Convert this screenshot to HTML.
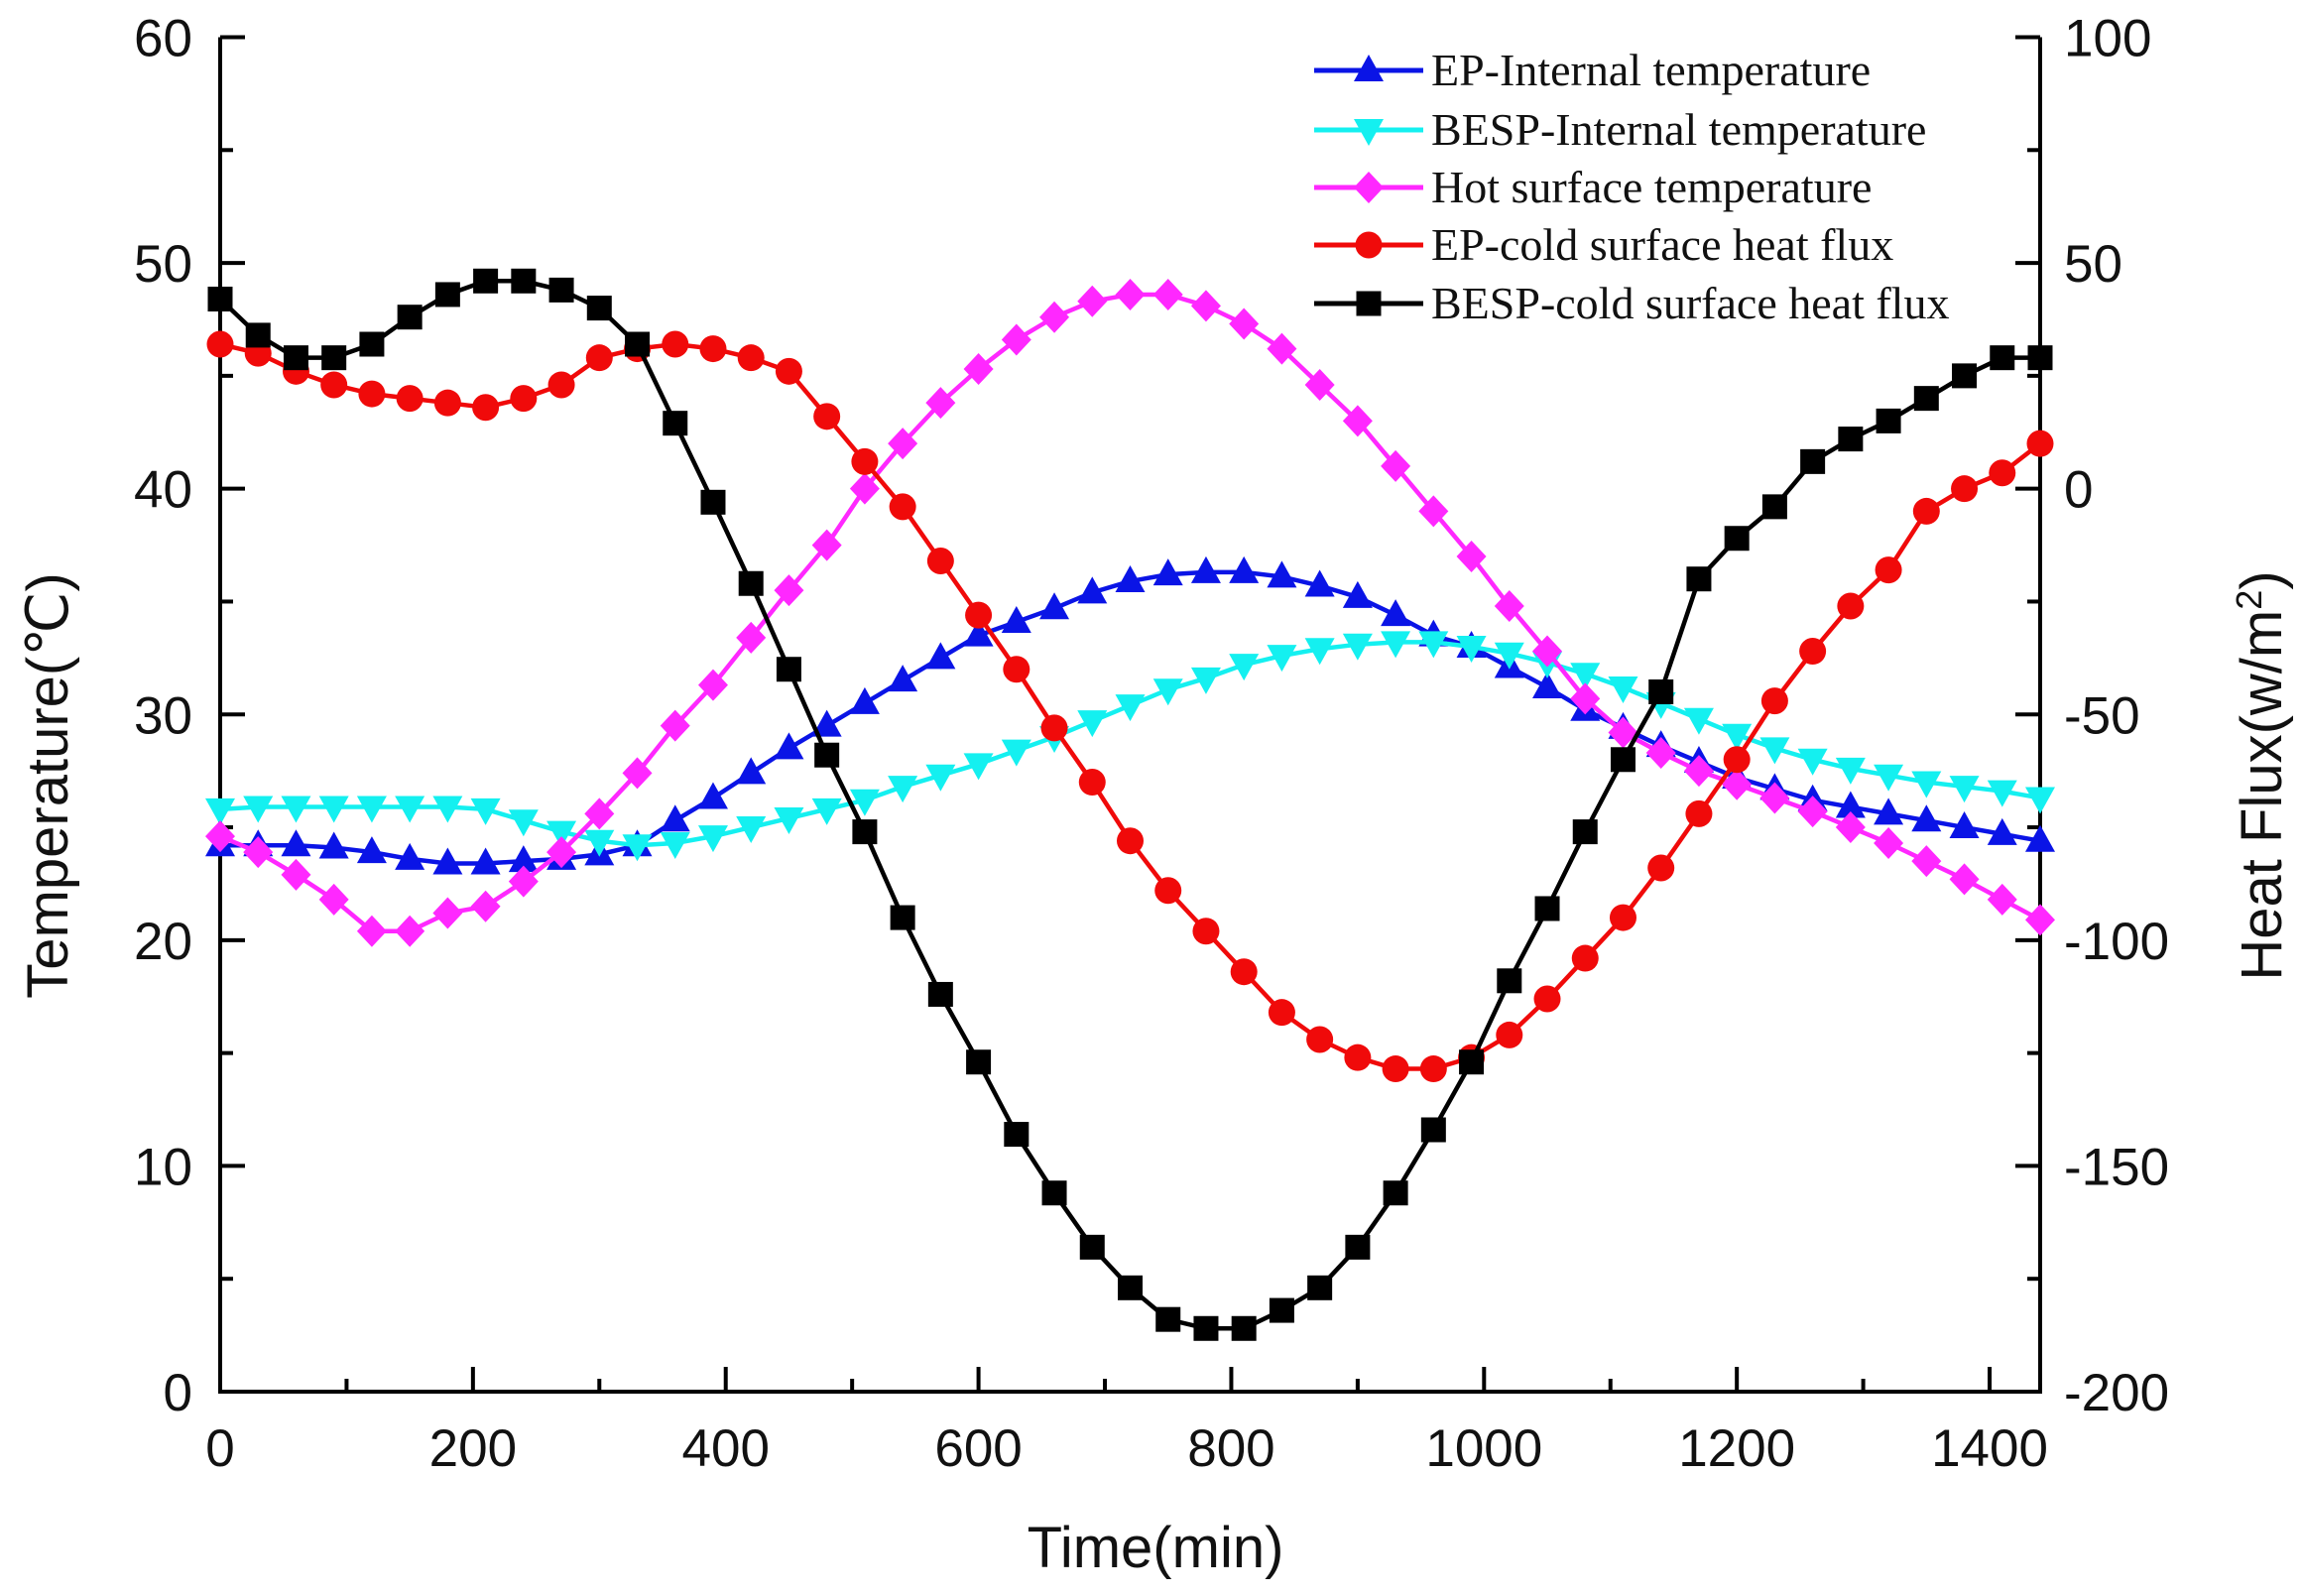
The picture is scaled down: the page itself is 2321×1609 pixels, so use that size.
<!DOCTYPE html>
<html><head><meta charset="utf-8"><style>
body{margin:0;background:#fff}
svg text{font-family:"Liberation Sans",sans-serif;fill:#111}
.leg{font-family:"Liberation Serif",serif}
</style></head><body>
<svg id="chart" width="2321" height="1604" xmlns="http://www.w3.org/2000/svg">
<g id="axes"></g>
<g id="series"></g>
<g id="legend"></g>
</svg>
<script>
const times=[0,30,60,90,120,150,180,210,240,270,300,330,360,390,420,450,480,510,540,570,600,630,660,690,720,750,780,810,840,870,900,930,960,990,1020,1050,1080,1110,1140,1170,1200,1230,1260,1290,1320,1350,1380,1410,1440];
const epInternal=[24.2,24.2,24.2,24.1,23.9,23.6,23.4,23.4,23.5,23.6,23.8,24.2,25.3,26.3,27.4,28.5,29.5,30.5,31.5,32.5,33.5,34.1,34.7,35.4,35.9,36.2,36.3,36.3,36.1,35.7,35.2,34.4,33.5,33.0,32.1,31.2,30.2,29.4,28.6,27.9,27.2,26.7,26.2,25.9,25.6,25.3,25.0,24.7,24.4];
const bespInternal=[25.8,25.9,25.9,25.9,25.9,25.9,25.9,25.8,25.3,24.8,24.4,24.2,24.3,24.6,25.0,25.4,25.8,26.2,26.8,27.3,27.8,28.4,29.0,29.7,30.4,31.1,31.6,32.2,32.6,32.9,33.1,33.2,33.2,33.0,32.7,32.3,31.8,31.2,30.5,29.8,29.1,28.5,28.0,27.6,27.3,27.0,26.8,26.6,26.3];
const hotSurface=[24.6,23.9,22.9,21.8,20.4,20.4,21.2,21.5,22.6,23.9,25.6,27.4,29.5,31.3,33.4,35.5,37.5,40.0,42.0,43.8,45.3,46.6,47.6,48.3,48.6,48.6,48.1,47.3,46.2,44.6,43.0,41.0,39.0,37.0,34.8,32.8,30.7,29.2,28.3,27.5,26.9,26.3,25.7,25.0,24.3,23.5,22.7,21.8,20.9];
const epFlux=[32,30,26,23,21,20,19,18,20,23,29,31,32,31,29,26,16,6,-4,-16,-28,-40,-53,-65,-78,-89,-98,-107,-116,-122,-126,-128.5,-128.5,-126,-121,-113,-104,-95,-84,-72,-60,-47,-36,-26,-18,-5,0,3.5,10];
const bespFlux=[42,34,29,29,32,38,43,46,46,44,40,32,14.5,-3,-21,-40,-59,-76,-95,-112,-127,-143,-156,-168,-177,-184,-186,-186,-182,-177,-168,-156,-142,-127,-109,-93,-76,-60,-45,-20,-11,-4,6,11,15,20,25,29,29];
const xTicks=[0,200,400,600,800,1000,1200,1400];
const yTicks=[0,10,20,30,40,50,60];
const y2Ticks=[-200,-150,-100,-50,0,50,100];
const legendLabels=["EP-Internal temperature","BESP-Internal temperature","Hot surface temperature","EP-cold surface heat flux","BESP-cold surface heat flux"];

const L=222,R=2057,T=37.5,B=1403;
const X=v=>L+(v/1440)*(R-L);
const Y=v=>B-(v/60)*(B-T);
const Y2=v=>B-((v+200)/300)*(B-T);
const NS="http://www.w3.org/2000/svg";
function mk(p,tag,a){const e=document.createElementNS(NS,tag);for(const k in a)e.setAttribute(k,a[k]);p.appendChild(e);return e;}
const ax=document.getElementById('axes');
let e;
e=mk(ax,'path',{d:`M${L},${T} L${L},${B} L${R},${B} L${R},${T}`,fill:'none',stroke:'#000','stroke-width':4});


for(let v=0;v<=1440;v+=100){const maj=v%200===0;const t=mk(ax,'line',{x1:X(v),x2:X(v),y1:B,y2:B-(maj?25:13),stroke:'#000','stroke-width':4});

}
xTicks.forEach(v=>{const t=mk(ax,'text',{x:X(v),y:B+75,'font-size':53,'text-anchor':'middle'});t.textContent=v;

});
for(let v=0;v<=60;v+=5){const maj=v%10===0;const t=mk(ax,'line',{x1:L,x2:L+(maj?25:13),y1:Y(v),y2:Y(v),stroke:'#000','stroke-width':4});

}
yTicks.forEach(v=>{const t=mk(ax,'text',{x:L-28,y:Y(v)+19,'font-size':53,'text-anchor':'end'});t.textContent=v;

});
for(let v=-200;v<=100;v+=25){const maj=v%50===0;const t=mk(ax,'line',{x1:R,x2:R-(maj?25:13),y1:Y2(v),y2:Y2(v),stroke:'#000','stroke-width':4});

}
y2Ticks.forEach(v=>{const t=mk(ax,'text',{x:R+24,y:Y2(v)+19,'font-size':53,'text-anchor':'start'});t.textContent=v;

});
e=mk(ax,'text',{x:1165,y:1580,'font-size':58,'text-anchor':'middle'});e.textContent='Time(min)';


e=mk(ax,'text',{x:0,y:0,'font-size':58,'text-anchor':'middle',transform:`translate(68,792) rotate(-90)`});e.textContent='Temperature(\u2103)';


e=mk(ax,'text',{x:0,y:0,'font-size':58,'text-anchor':'middle',transform:`translate(2300,782) rotate(-90)`});
e.innerHTML='Heat Flux(w/m<tspan dy="-20" font-size="36">2</tspan><tspan dy="20">)</tspan>';



function marker(g,shape,x,y,c){
  const s=12.5;let m;
  if(shape==='sq')m=mk(g,'rect',{x:x-s,y:y-s,width:2*s,height:2*s,fill:c});
  else if(shape==='ci')m=mk(g,'circle',{cx:x,cy:y,r:s+1,fill:c});
  else if(shape==='up')m=mk(g,'polygon',{points:`${x},${y-16} ${x+15},${y+11} ${x-15},${y+11}`,fill:c});
  else if(shape==='dn')m=mk(g,'polygon',{points:`${x},${y+16} ${x+15},${y-11} ${x-15},${y-11}`,fill:c});
  else m=mk(g,'polygon',{points:`${x},${y-16} ${x+15},${y} ${x},${y+16} ${x-15},${y}`,fill:c});
  return m;
}
const S=document.getElementById('series');
const defs=[
 {data:epInternal,sc:Y,c:'#0a14e6',sh:'up',n:'ep-internal-temperature'},
 {data:bespInternal,sc:Y,c:'#14f0f0',sh:'dn',n:'besp-internal-temperature'},
 {data:hotSurface,sc:Y,c:'#ff28ff',sh:'di',n:'hot-surface-temperature'},
 {data:epFlux,sc:Y2,c:'#f00a0a',sh:'ci',n:'ep-cold-surface-heat-flux'},
 {data:bespFlux,sc:Y2,c:'#000',sh:'sq',n:'besp-cold-surface-heat-flux'}];
defs.forEach(d=>{
  const g=mk(S,'g',{});
  
  
  const pts=times.map((t,i)=>X(t)+','+d.sc(d.data[i])).join(' ');
  const pl=mk(g,'polyline',{points:pts,fill:'none',stroke:d.c,'stroke-width':4.5});
  
  
  times.forEach((t,i)=>{const m=marker(g,d.sh,X(t),d.sc(d.data[i]),d.c);
    
    });
});
const LG=document.getElementById('legend');
const ly=[71,131,189,247,306];
defs.forEach((d,i)=>{
  const g=mk(LG,'g',{});
  
  
  mk(g,'line',{x1:1325,x2:1435,y1:ly[i],y2:ly[i],stroke:d.c,'stroke-width':5});
  marker(g,d.sh,1380,ly[i],d.c);
  const t=mk(g,'text',{x:1443,y:ly[i]+15,'font-size':46,class:'leg'});t.textContent=legendLabels[i];
});
</script>
</body></html>
